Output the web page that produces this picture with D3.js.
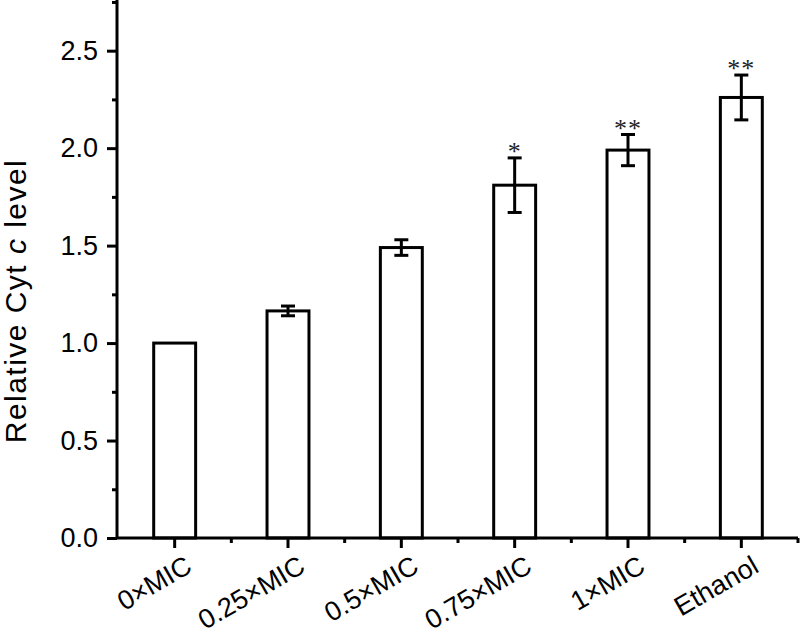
<!DOCTYPE html>
<html><head><meta charset="utf-8">
<script src="https://cdn.jsdelivr.net/npm/d3@7"></script>
<style>
html,body{margin:0;padding:0;background:#fff;}
svg text{font-family:"Liberation Sans",Arial,sans-serif;}
</style></head>
<body><svg id="c" width="800" height="637"></svg>
<script>
const categories = ["0×MIC","0.25×MIC","0.5×MIC","0.75×MIC","1×MIC","Ethanol"];
const values = [1.00, 1.165, 1.49, 1.81, 1.99, 2.26];
const errors = [0.00, 0.025, 0.04, 0.14, 0.08, 0.115];
const stars = ["", "", "", "*", "**", "**"];
const yTicks = [0, 0.5, 1.0, 1.5, 2.0, 2.5];
const yMinorTicks = [0.25, 0.75, 1.25, 1.75, 2.25, 2.75];

const svg = d3.select("#c");
const x = d3.scaleBand().domain(categories).range([118, 798]).paddingInner(0.63).paddingOuter(0.315);
const y = d3.scaleLinear().domain([0, 2.76]).range([538, 0]);

const band = (798-118)/categories.length;
const cx = d => x(d) + x.bandwidth()/2;

// bars
svg.selectAll("rect.bar").data(categories).enter().append("rect")
  .attr("x", d => x(d)).attr("width", x.bandwidth())
  .attr("y", (d,i) => y(values[i])).attr("height", (d,i) => y(0) - y(values[i]))
  .attr("fill", "#fff").attr("stroke", "#000").attr("stroke-width", 3);

// error bars
const eg = svg.append("g").attr("stroke", "#000").attr("stroke-width", 3);
categories.forEach((c,i) => {
  if (errors[i] <= 0) return;
  const xc = cx(c), cap = 7;
  eg.append("line").attr("x1", xc).attr("x2", xc).attr("y1", y(values[i]+errors[i])).attr("y2", y(values[i]-errors[i]));
  eg.append("line").attr("x1", xc-cap).attr("x2", xc+cap).attr("y1", y(values[i]+errors[i])).attr("y2", y(values[i]+errors[i]));
  eg.append("line").attr("x1", xc-cap).attr("x2", xc+cap).attr("y1", y(values[i]-errors[i])).attr("y2", y(values[i]-errors[i]));
});

// stars
svg.selectAll("text.star").data(categories).enter().append("text")
  .attr("x", d => cx(d)).attr("y", (d,i) => y(values[i]+errors[i]) + 2)
  .attr("text-anchor", "middle").style("font-family", "'Liberation Serif','Times New Roman',serif")
  .style("font-size", "26px").attr("fill", "#222").attr("letter-spacing", "1px")
  .text((d,i) => stars[i]);

// y axis
const yAxis = svg.append("g").attr("transform", "translate(117,0)")
  .call(d3.axisLeft(y).tickValues(yTicks).tickFormat(d3.format(".1f")).tickSize(10).tickPadding(9));
svg.append("g").attr("transform", "translate(117,0)")
  .call(d3.axisLeft(y).tickValues(yMinorTicks).tickFormat("").tickSize(5))
  .select(".domain").remove();
yAxis.select(".domain").attr("d", `M0,${y(0)}V0`);

// x axis
const xAxis = svg.append("g").attr("transform", "translate(0,538)")
  .call(d3.axisBottom(x).tickSize(10).tickSizeOuter(0).tickPadding(4));
xAxis.select(".domain").attr("d", "M117,0H798");
const minor = d3.range(categories.length).map(i => 118 + band*(i+1));
xAxis.selectAll("line.minor").data(minor).enter().append("line")
  .attr("x1", d => d).attr("x2", d => d).attr("y1", 0).attr("y2", 5)
  .attr("stroke", "#000").attr("stroke-width", 3);

svg.selectAll(".tick line").attr("stroke-width", 3);
svg.selectAll(".domain").attr("stroke-width", 3);
svg.selectAll(".tick text").style("font-size", "27px").attr("fill", "#000");
xAxis.selectAll(".tick text")
  .attr("text-anchor", "end").attr("dy", 0).attr("y", 0)
  .style("font-size", "27px")
  .attr("transform", "translate(19,33) rotate(-30)");

// y label
const yl = svg.append("text").attr("text-anchor", "middle").style("font-size", "30px").attr("fill", "#000")
  .attr("transform", "translate(26,301) rotate(-90)");
yl.append("tspan").text("Relative Cyt ");
yl.append("tspan").style("font-style", "italic").text("c");
yl.append("tspan").text(" level");
const natural = yl.node().getComputedTextLength();
yl.attr("letter-spacing", Math.max(0, (283 - natural) / 19) + "px");
</script></body></html>
